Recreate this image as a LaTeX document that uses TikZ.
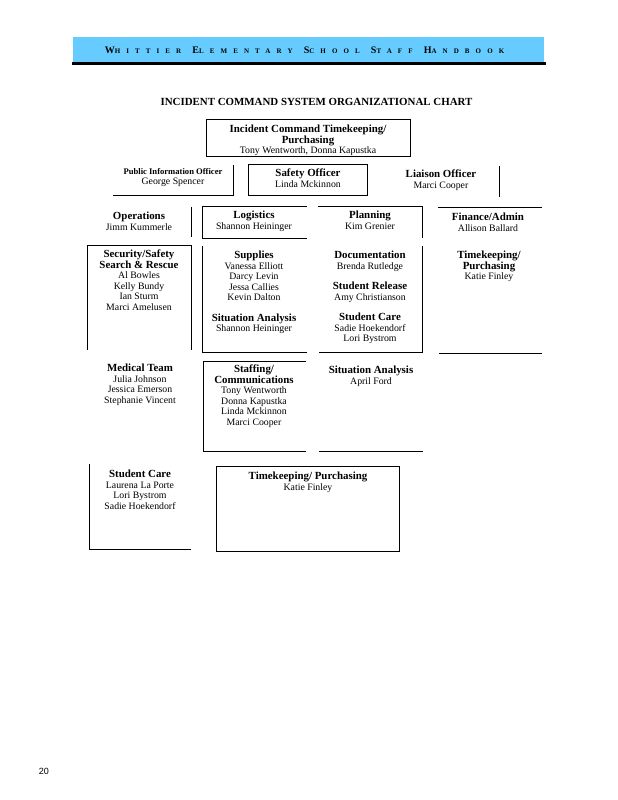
\documentclass[tikz,border=0pt]{standalone}
\usepackage{fontspec}
\setmainfont{Liberation Serif}
\newfontfamily\pagefont{Liberation Sans}
\definecolor{bandblue}{RGB}{102,204,255}
\newcommand{\hd}[1]{{\fontsize{10.9}{10.5}\selectfont\bfseries #1}}
\newcommand{\smallhd}[1]{{\fontsize{8.6}{10.5}\selectfont\bfseries #1}}
\newcommand{\sccap}[2]{{\fontsize{10}{10}\selectfont #1}{\fontsize{7}{7}\selectfont #2}}

\begin{document}
\begin{tikzpicture}[x=1pt, y=-1pt,
    unit/.style={anchor=north, align=center, inner sep=0pt, font=\fontsize{9.8}{10.5}\selectfont},
    frame/.style={draw, line width=1pt}]
    \useasboundingbox (0,0) rectangle (618,800);

    % Handbook band
    \fill[bandblue] (73,37) rectangle (544,62);
    \draw[line width=2.2pt] (72,63.5) -- (546,63.5);
    \node[inner sep=0pt] (band) at (304.5,50) {\bfseries\addfontfeature{LetterSpace=87}%
        \sccap{W}{HITTIER} \sccap{E}{LEMENTARY} \sccap{S}{CHOOL} \sccap{S}{TAFF} \sccap{H}{ANDBOOK}};
    \node[inner sep=0pt, font=\fontsize{10.9}{12}\selectfont\bfseries] (title) at (316.5,102)
        {INCIDENT COMMAND SYSTEM ORGANIZATIONAL CHART};

    % Command staff
    \draw[frame] (206,119) rectangle (410,156);
    \node[unit] (command) at (308,125) {\hd{Incident Command Timekeeping/}\\\hd{Purchasing}\\Tony Wentworth, Donna Kapustka};
    \draw[frame] (113,195) -- (233,195) -- (233,165);
    \node[unit] (pio) at (173,168) {\smallhd{Public Information Officer}\\George Spencer};
    \draw[frame] (248,164) rectangle (367,195);
    \node[unit] (safety) at (308,169) {\hd{Safety Officer}\\Linda Mckinnon};
    \draw[frame] (499,166) -- (499,197);
    \node[unit] (liaison) at (441,170) {\hd{Liaison Officer}\\Marci Cooper};

    % Sections
    \draw[frame] (191,207) -- (191,237);
    \node[unit] (ops) at (139,212) {\hd{Operations}\\Jimm Kummerle};
    \draw[frame] (307,206) -- (202,206) -- (202,238) -- (307,238);
    \node[unit] (logi) at (254,211) {\hd{Logistics}\\Shannon Heininger};
    \draw[frame] (318,206) -- (422,206) -- (422,238);
    \node[unit] (plan) at (370,211) {\hd{Planning}\\Kim Grenier};
    \draw[frame] (438,207) -- (542,207);
    \node[unit] (fin) at (488,213) {\hd{Finance/Admin}\\Allison Ballard};

    % Units
    \draw[frame] (87,350) -- (87,245) -- (191,245) -- (191,350);
    \node[unit] (secu) at (139,250) {\hd{Security/Safety}\\\hd{Search \& Rescue}\\Al Bowles\\Kelly Bundy\\Ian Sturm\\Marci Amelusen};
    \draw[frame] (202,246) -- (202,352) -- (307,352);
    \node[unit] (supp) at (254,251) {\hd{Supplies}\\Vanessa Elliott\\Darcy Levin\\Jessa Callies\\Kevin Dalton\\[10pt]\hd{Situation Analysis}\\Shannon Heininger};
    \draw[frame] (319,352) -- (422,352) -- (422,246);
    \node[unit] (docu) at (370,251) {\hd{Documentation}\\Brenda Rutledge\\[10pt]\hd{Student Release}\\Amy Christianson\\[10pt]\hd{Student Care}\\Sadie Hoekendorf\\Lori Bystrom};
    \draw[frame] (439,353) -- (542,353);
    \node[unit] (time) at (489,251) {\hd{Timekeeping/}\\\hd{Purchasing}\\Katie Finley};

    \node[unit] (medi) at (140,364) {\hd{Medical Team}\\Julia Johnson\\Jessica Emerson\\Stephanie Vincent};
    \draw[frame] (306,361) -- (203,361) -- (203,451) -- (306,451);
    \node[unit] (staf) at (254,365) {\hd{Staffing/}\\\hd{Communications}\\Tony Wentworth\\Donna Kapustka\\Linda Mckinnon\\Marci Cooper};
    \draw[frame] (319,451) -- (423,451);
    \node[unit] (situ) at (371,366) {\hd{Situation Analysis}\\April Ford};

    \draw[frame] (89,464) -- (89,549) -- (191,549);
    \node[unit] (care) at (140,470) {\hd{Student Care}\\Laurena La Porte\\Lori Bystrom\\Sadie Hoekendorf};
    \draw[frame] (216,466) rectangle (399,551);
    \node[unit] (purch) at (308,472) {\hd{Timekeeping/ Purchasing}\\Katie Finley};

    % Page number
    \node[inner sep=0pt, font=\pagefont\fontsize{9}{10}\selectfont] (page) at (44,771) {20};
\end{tikzpicture}
\end{document}
